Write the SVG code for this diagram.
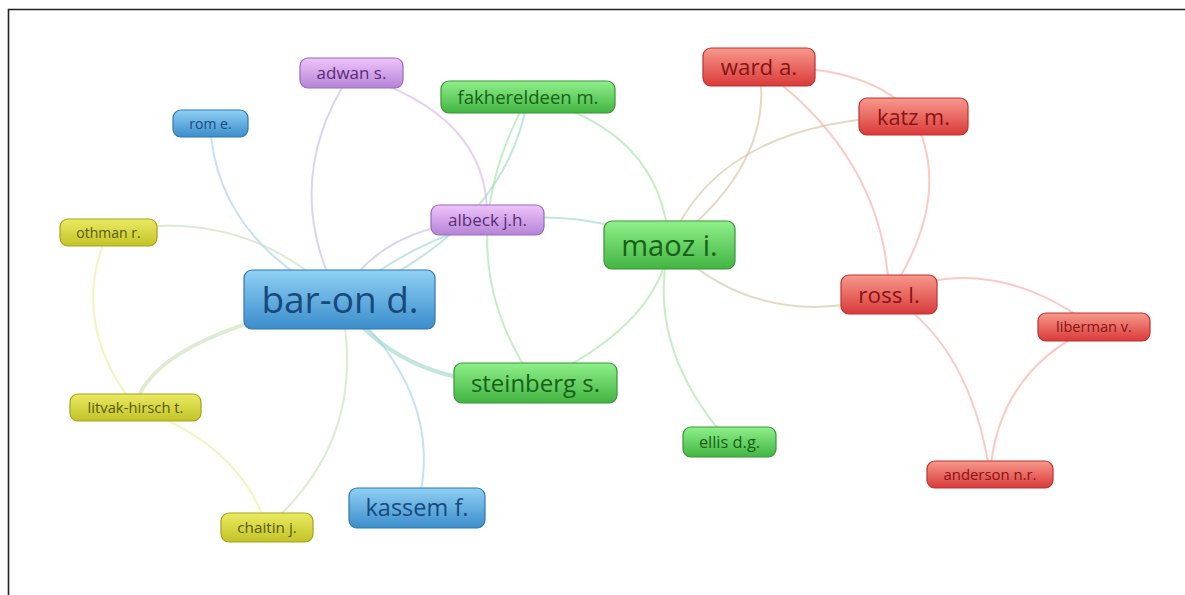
<svg xmlns="http://www.w3.org/2000/svg" width="1185" height="595" viewBox="0 0 1185 595">
<defs>
<linearGradient id="gBlue" x1="0" y1="0" x2="0" y2="1"><stop offset="0" stop-color="#8fd0f5"/><stop offset="1" stop-color="#3b8dcb"/></linearGradient>
<linearGradient id="gPurple" x1="0" y1="0" x2="0" y2="1"><stop offset="0" stop-color="#efc4fb"/><stop offset="1" stop-color="#b584d6"/></linearGradient>
<linearGradient id="gGreen" x1="0" y1="0" x2="0" y2="1"><stop offset="0" stop-color="#8ff08a"/><stop offset="1" stop-color="#42b442"/></linearGradient>
<linearGradient id="gRed" x1="0" y1="0" x2="0" y2="1"><stop offset="0" stop-color="#f8998c"/><stop offset="1" stop-color="#d93a3a"/></linearGradient>
<linearGradient id="gYellow" x1="0" y1="0" x2="0" y2="1"><stop offset="0" stop-color="#eaea62"/><stop offset="1" stop-color="#c3c327"/></linearGradient>
</defs>
<style>
.edge{fill:none;stroke-width:2;stroke-opacity:0.6}
.thick{stroke-width:4}
.eb{stroke:#9ccdf2}
.ep{stroke:#d4b2f2}
.eg{stroke:#9fe29b}
.er{stroke:#fba59b}
.ey{stroke:#eded95}
.et{stroke:#99d6c6}
.etan{stroke:#d4bf9a}
.eyb{stroke:#c6deb0}
.ebp{stroke:#c0b8f2}
.node rect{stroke-width:1.2;rx:8;ry:8}
.blue rect{fill:url(#gBlue);stroke:#2f78b0}
.purple rect{fill:url(#gPurple);stroke:#9a68bd}
.green rect{fill:url(#gGreen);stroke:#379537}
.red rect{fill:url(#gRed);stroke:#bf3030}
.yellow rect{fill:url(#gYellow);stroke:#a3a31e}
.node text{font-family:"Open Sans","Noto Sans","DejaVu Sans",sans-serif;text-anchor:middle}
.blue text{fill:#174a7c}
.purple text{fill:#5a2c78}
.green text{fill:#176117}
.red text{fill:#881414}
.yellow text{fill:#5a5a10}
</style>
<rect x="0" y="0" width="1185" height="595" fill="#ffffff"/>
<path d="M8.5 595 V9.5 H1185" fill="none" stroke="#222" stroke-width="1.6"/>
<g id="connectors">
<path class="edge eb" d="M210 123 Q215 238 340 300"/>
<path class="edge ebp" d="M351 73 Q278 184 340 300"/>
<path class="edge ep" d="M351 73 Q491 114 487 220"/>
<path class="edge eyb" d="M108 232 Q246 204 340 300"/>
<path class="edge ey" d="M108 232 Q68 321 135 407"/>
<path class="edge eyb thick" d="M135 407 Q152 337 340 300"/>
<path class="edge ey" d="M135 407 Q239 443 267 527"/>
<path class="edge eyb" d="M267 527 Q371 437 340 300"/>
<path class="edge eb" d="M340 300 Q448 396 417 508"/>
<path class="edge et thick" d="M340 300 Q402 389 535 383"/>
<path class="edge ebp" d="M340 300 Q377 226 487 220"/>
<path class="edge et" d="M528 97 Q506 232 340 300"/>
<path class="edge et" d="M340 300 Q496 170 669 245"/>
<path class="edge eg" d="M528 97 Q443 250 535 383"/>
<path class="edge eg" d="M528 97 Q662 129 669 245"/>
<path class="edge eg" d="M669 245 Q658 326 535 383"/>
<path class="edge eg" d="M669 245 Q645 347 729 442"/>
<path class="edge etan" d="M669 245 Q776 164 759 67"/>
<path class="edge etan" d="M669 245 Q719 120 913 116"/>
<path class="edge etan" d="M669 245 Q761 334 889 295"/>
<path class="edge er" d="M759 67 Q874 65 913 116"/>
<path class="edge er" d="M759 67 Q886 159 889 295"/>
<path class="edge er" d="M913 116 Q955 195 889 295"/>
<path class="edge er" d="M889 295 Q989 249 1094 327"/>
<path class="edge er" d="M889 295 Q971 346 990 474"/>
<path class="edge er" d="M1094 327 Q998 370 990 474"/>
</g>
<g id="node-bar-on" class="node blue"><rect x="244" y="270" width="191" height="59"/><text x="340" y="313" font-size="37">bar-on d.</text></g>
<g id="node-kassem" class="node blue"><rect x="349" y="488" width="136" height="40"/><text x="417" y="516" font-size="23.5">kassem f.</text></g>
<g id="node-rom" class="node blue"><rect x="173" y="110" width="75" height="27"/><text x="210.5" y="128.5" font-size="14">rom e.</text></g>
<g id="node-adwan" class="node purple"><rect x="300" y="58" width="103" height="30"/><text x="351.5" y="79" font-size="17">adwan s.</text></g>
<g id="node-albeck" class="node purple"><rect x="431" y="205" width="113" height="30"/><text x="487.5" y="226" font-size="17">albeck j.h.</text></g>
<g id="node-fakhereldeen" class="node green"><rect x="441" y="81" width="174" height="32"/><text x="528" y="103.5" font-size="18.5">fakhereldeen m.</text></g>
<g id="node-maoz" class="node green"><rect x="604" y="221" width="131" height="48"/><text x="669.5" y="255.5" font-size="29">maoz i.</text></g>
<g id="node-steinberg" class="node green"><rect x="454" y="363" width="163" height="40"/><text x="535.5" y="391.5" font-size="24">steinberg s.</text></g>
<g id="node-ellis" class="node green"><rect x="683" y="427" width="93" height="30"/><text x="729.5" y="448" font-size="16.4">ellis d.g.</text></g>
<g id="node-ward" class="node red"><rect x="703" y="48" width="112" height="38"/><text x="759" y="75" font-size="22.3">ward a.</text></g>
<g id="node-katz" class="node red"><rect x="859" y="98" width="109" height="37"/><text x="913.5" y="124.5" font-size="21.7">katz m.</text></g>
<g id="node-ross" class="node red"><rect x="841" y="275" width="96" height="39"/><text x="889" y="302.5" font-size="22.5">ross l.</text></g>
<g id="node-liberman" class="node red"><rect x="1038" y="313" width="112" height="28"/><text x="1094" y="332" font-size="14.6">liberman v.</text></g>
<g id="node-anderson" class="node red"><rect x="927" y="461" width="126" height="27"/><text x="990" y="480" font-size="14.9">anderson n.r.</text></g>
<g id="node-othman" class="node yellow"><rect x="60" y="219" width="97" height="27"/><text x="108.5" y="237.5" font-size="14">othman r.</text></g>
<g id="node-litvak" class="node yellow"><rect x="70" y="394" width="131" height="27"/><text x="135.5" y="412.5" font-size="14.8">litvak-hirsch t.</text></g>
<g id="node-chaitin" class="node yellow"><rect x="221" y="513" width="92" height="29"/><text x="267" y="533" font-size="15.3">chaitin j.</text></g>
</svg>
